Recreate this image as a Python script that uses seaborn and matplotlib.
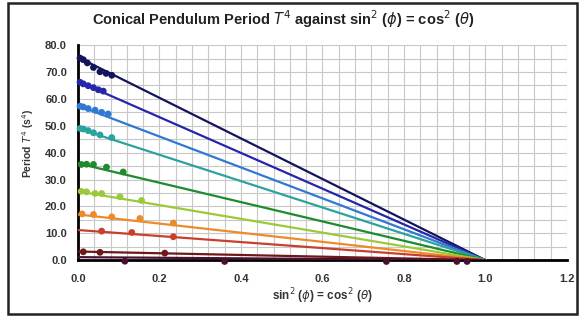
import matplotlib

matplotlib.use("Agg")

import matplotlib.pyplot as plt
import numpy as np
import pandas as pd
import seaborn as sns
from matplotlib.patches import Rectangle
from matplotlib.ticker import FormatStrFormatter, MultipleLocator


SERIES = ["s1", "s2", "s3", "s4", "s5", "s6", "s7", "s8", "s9", "s10"]
COLORS = ["#14145c", "#2626a8", "#2f78d4", "#2aa39e", "#1f8a2e",
          "#9cc93a", "#ee8a2a", "#c8402c", "#701818", "#4a1030"]

# fitted lines: value at x = 0 and at x = 1
INTERCEPTS = [75.5, 66.5, 57.5, 49.0, 36.0, 25.6, 17.0, 11.2, 3.2, 1.1]
LINE_X = [0.0, 1.0]

# measured points
POINTS_X = [
    [0.005, 0.013, 0.023, 0.038, 0.054, 0.069, 0.083],
    [0.005, 0.013, 0.025, 0.038, 0.050, 0.062],
    [0.005, 0.013, 0.025, 0.042, 0.058, 0.074],
    [0.005, 0.013, 0.025, 0.038, 0.054, 0.083],
    [0.008, 0.021, 0.038, 0.070, 0.111],
    [0.008, 0.021, 0.042, 0.058, 0.103, 0.156],
    [0.010, 0.038, 0.083, 0.152, 0.234],
    [0.058, 0.132, 0.234],
    [0.013, 0.054, 0.213],
    [0.115, 0.360, 0.757, 0.930, 0.955],
]
POINTS_Y = [
    [75.2, 74.6, 73.4, 71.7, 70.1, 69.5, 68.8],
    [66.2, 65.6, 64.9, 64.2, 63.4, 62.9],
    [57.3, 57.0, 56.4, 55.8, 55.0, 54.4],
    [49.0, 48.8, 48.2, 47.4, 46.6, 45.6],
    [35.6, 35.7, 35.6, 34.6, 32.8],
    [25.6, 25.4, 24.8, 24.8, 23.6, 22.2],
    [17.2, 17.0, 16.1, 15.5, 13.8],
    [10.8, 10.3, 8.7],
    [3.1, 2.9, 2.6],
    [-0.4, -0.5, -0.5, -0.5, -0.5],
]

TITLE = r"Conical Pendulum Period $T^4$ against sin$^2$ ($\phi$) = cos$^2$ ($\theta$)"
XLABEL = r"sin$^2$ ($\phi$) = cos$^2$ ($\theta$)"
YLABEL = r"Period $T^4$ (s$^4$)"


def build_frames():
    lines = pd.DataFrame({
        "series": np.repeat(SERIES, len(LINE_X)),
        "x": LINE_X * len(SERIES),
        "y": [v for b in INTERCEPTS for v in (b, 0.0)],
    })
    pts = pd.DataFrame({
        "series": [s for s, xs in zip(SERIES, POINTS_X) for _ in xs],
        "x": [v for xs in POINTS_X for v in xs],
        "y": [v for ys in POINTS_Y for v in ys],
    })
    return lines, pts


def main():
    sns.set_style("white")
    plt.rcParams["font.family"] = ["Liberation Sans", "DejaVu Sans"]
    plt.rcParams["mathtext.fontset"] = "dejavusans"

    lines, pts = build_frames()
    palette = dict(zip(SERIES, COLORS))

    fig = plt.figure(figsize=(5.82, 3.18), dpi=100)
    ax = fig.add_axes([0.134, 0.182, 0.840, 0.676])

    sns.scatterplot(data=pts, x="x", y="y", hue="series", palette=palette,
                    s=24, edgecolor="none", legend=False, ax=ax,
                    clip_on=False, zorder=4)
    sns.lineplot(data=lines, x="x", y="y", hue="series", palette=palette,
                 linewidth=1.6, legend=False, ax=ax, zorder=3)

    ax.set_xlim(0, 1.2)
    ax.set_ylim(0, 80)
    ax.xaxis.set_major_locator(MultipleLocator(0.2))
    ax.xaxis.set_minor_locator(MultipleLocator(0.04))
    ax.yaxis.set_major_locator(MultipleLocator(10))
    ax.yaxis.set_minor_locator(MultipleLocator(5))
    ax.xaxis.set_major_formatter(FormatStrFormatter("%.1f"))
    ax.yaxis.set_major_formatter(FormatStrFormatter("%.1f"))
    ax.grid(which="both", color="#c8c8c8", linewidth=0.8)
    ax.set_axisbelow(True)

    for side in ["top", "right"]:
        ax.spines[side].set_visible(False)
    for side in ["left", "bottom"]:
        ax.spines[side].set_color("black")
        ax.spines[side].set_linewidth(2.0)
    ax.tick_params(which="major", direction="out", length=4, width=1.4,
                   labelsize=8, colors="#333333")
    ax.tick_params(axis="x", pad=6)
    ax.tick_params(axis="y", pad=4)
    ax.tick_params(which="minor", length=0)
    for lab in ax.get_xticklabels() + ax.get_yticklabels():
        lab.set_fontweight("bold")

    ax.set_xlabel("")
    ax.set_ylabel("")
    fig.text(0.553, 1 - 296 / 318, XLABEL, ha="center", va="center",
             fontsize=8.5, fontweight="bold", color="#333333")
    fig.text(0.048, 1 - 143 / 318, YLABEL, ha="center", va="center",
             rotation=90, fontsize=7.5, fontweight="bold", color="#333333")
    fig.text(283 / 582, 1 - 19 / 318, TITLE, ha="center", va="center",
             fontsize=10.5, fontweight="bold", color="#222222")

    fig.patches.append(Rectangle((0.013, 0.012), 0.979, 0.978,
                                 transform=fig.transFigure, fill=False,
                                 edgecolor="#222222", linewidth=1.8))

    fig.savefig("out.png", dpi=100)
    plt.close(fig)


if __name__ == "__main__":
    main()
